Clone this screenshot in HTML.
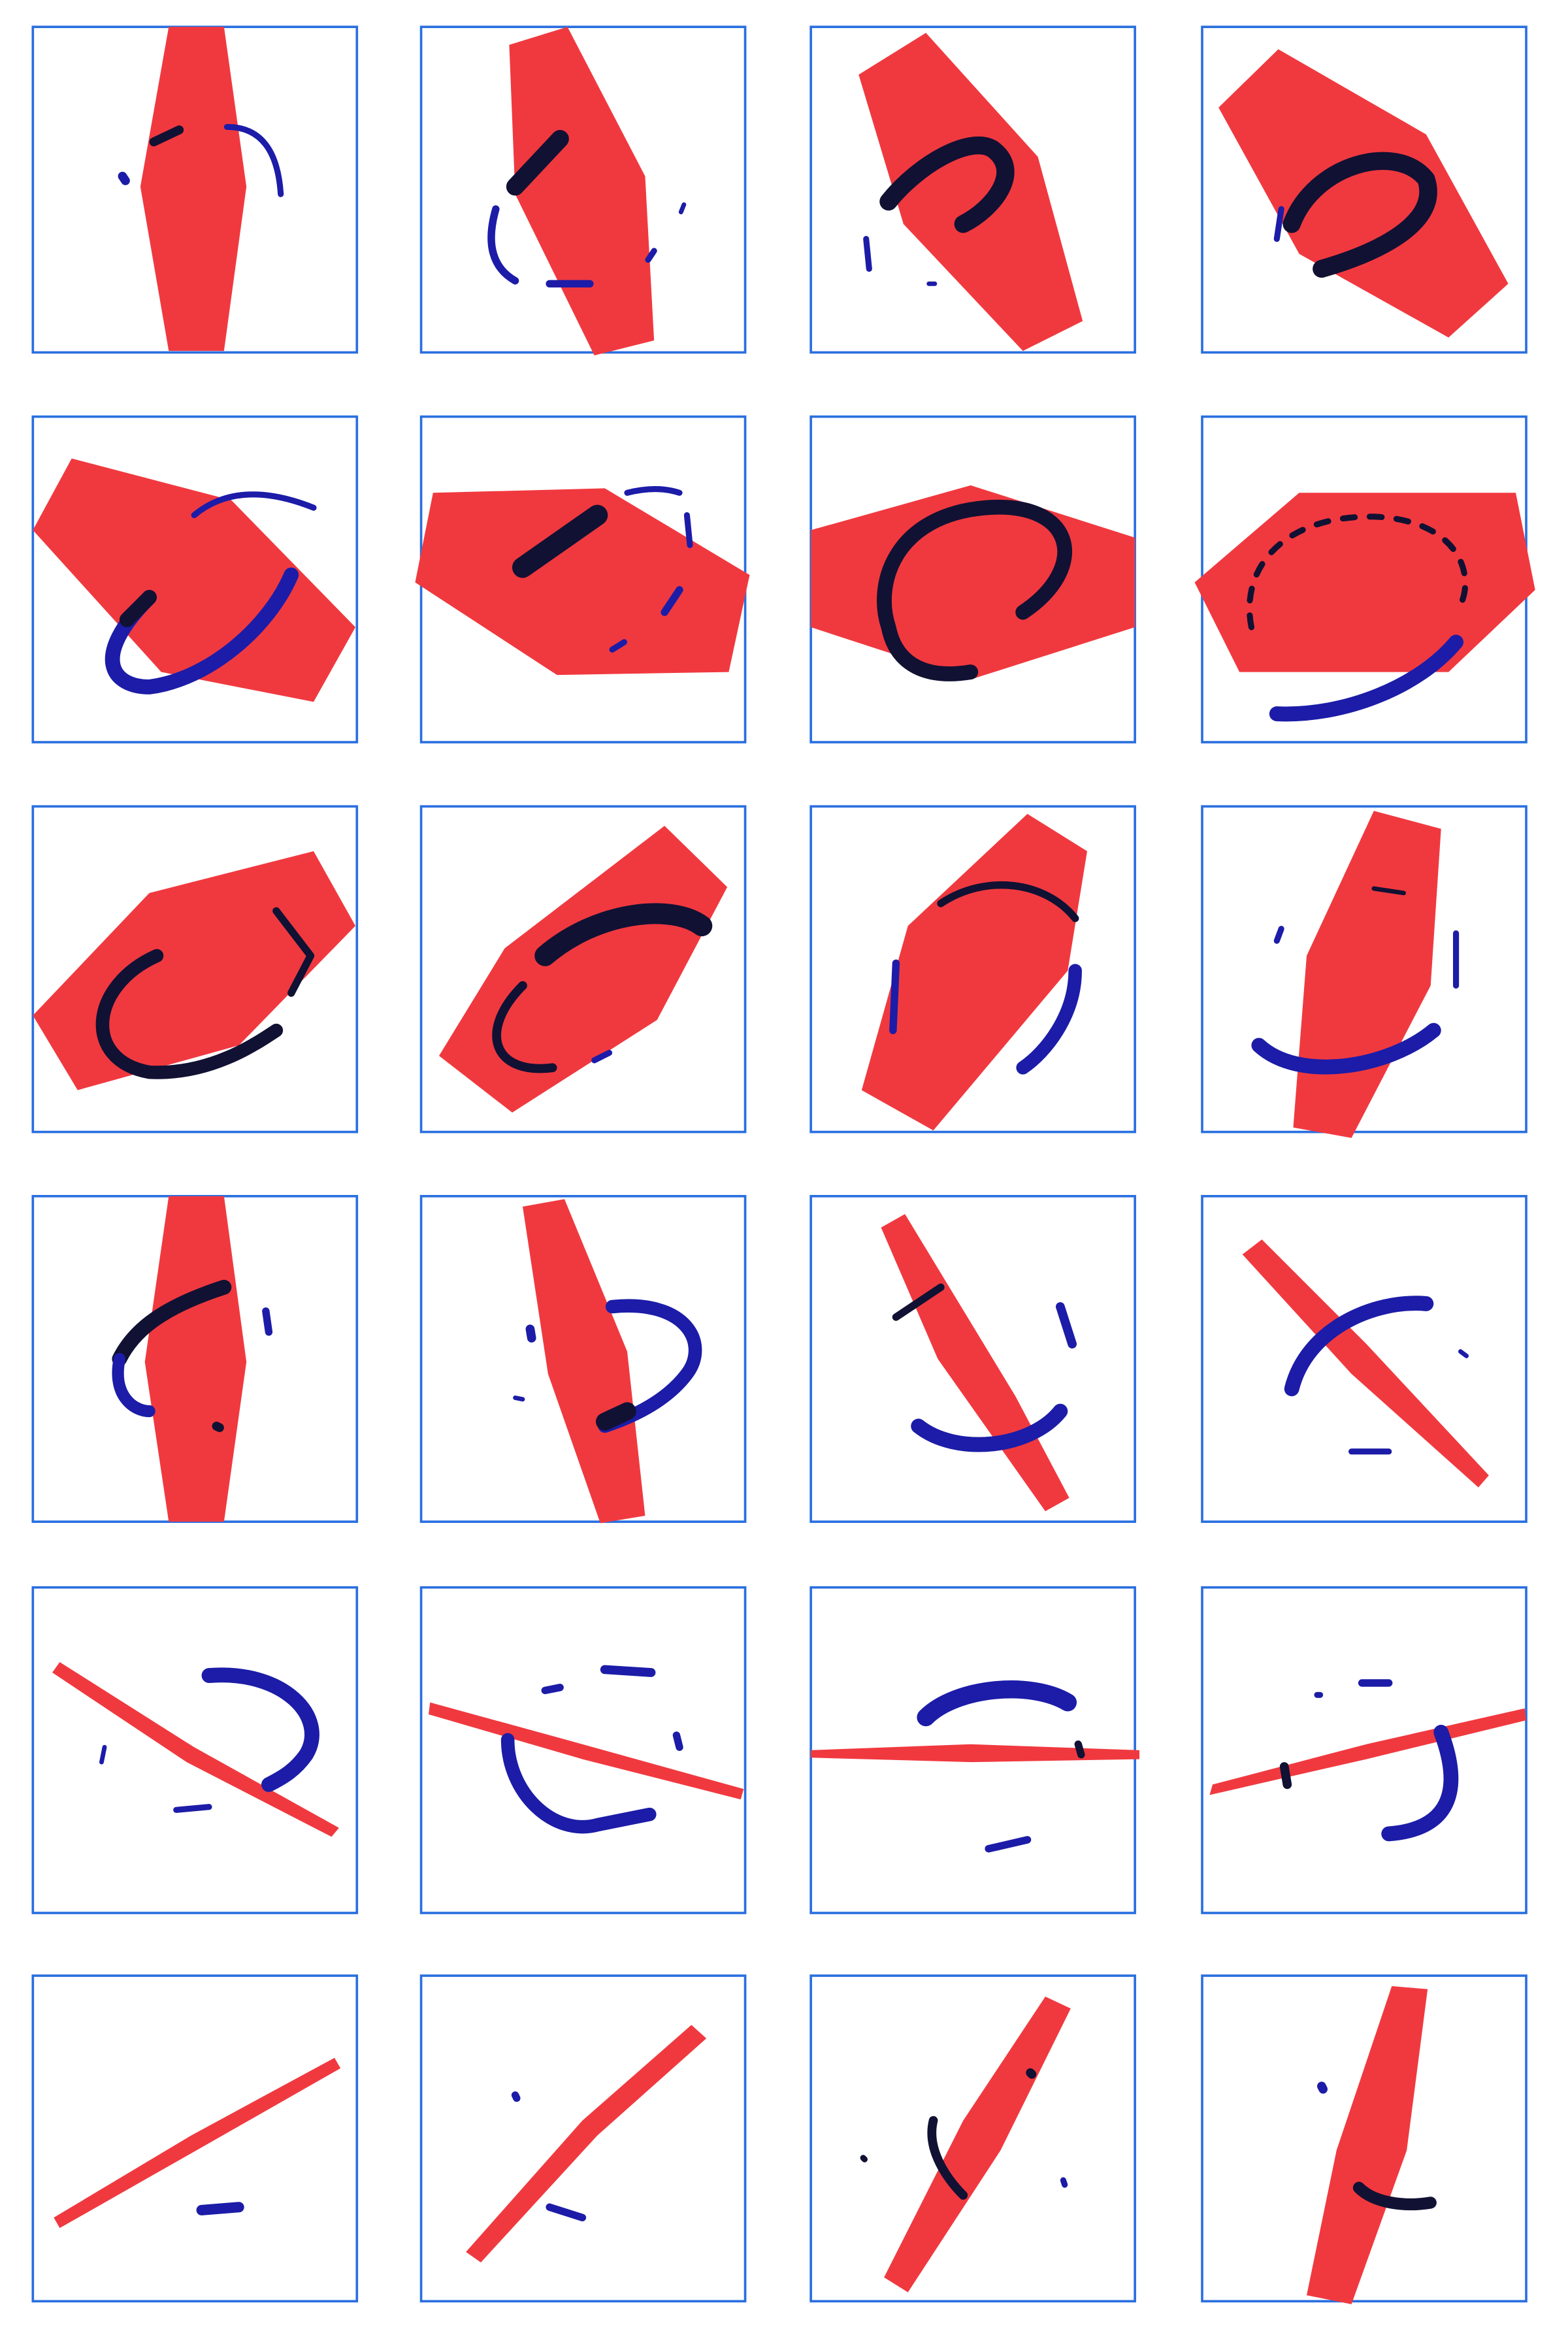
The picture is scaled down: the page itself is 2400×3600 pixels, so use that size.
<!DOCTYPE html>
<html><head><meta charset="utf-8"><title>Rotating shapes grid</title>
<style>html,body{margin:0;padding:0;background:#fff}svg{display:block}</style></head>
<body>
<svg width="2400" height="3600" viewBox="0 0 1050 1575" preserveAspectRatio="none" xmlns="http://www.w3.org/2000/svg">
<rect width="1050" height="1575" fill="#fff"/>
<g id="frames" fill="none" stroke="#2a6fe0" stroke-width="1.6"></g>
<g id="shapes" fill="#f0393f"></g>
<g id="strokes" fill="none" stroke-linecap="round" stroke-linejoin="round"></g>
</svg>
<script>
const NS="http://www.w3.org/2000/svg";
const colsX=[22,282,543,805], rowsY=[18,279,540,801,1063,1323], boxW=217, boxH=218;
const polys=[
"113,18 150,18 165,125 150,235 113,235 94,125",
"341,30 380,18 432,118 438,228 398,238 345,130",
"575,50 620,22 695,105 725,215 685,235 605,150",
"816,72 856,33 955,90 1010,190 970,226 870,170",
"22,355 48,307 155,335 238,420 210,470 108,450",
"278,390 290,330 405,327 502,385 488,450 373,452",
"543,355 650,325 760,360 760,420 650,455 543,420",
"800,390 870,330 1015,330 1028,395 970,450 830,450",
"22,680 100,598 210,570 238,620 160,700 52,730",
"294,707 338,635 445,553 487,594 440,683 343,745",
"577,730 608,620 688,545 728,570 715,650 625,757",
"866,755 875,640 920,543 965,555 958,660 905,762",
"113,801 150,801 165,912 150,1019 113,1019 97,912",
"350,808 378,803 420,905 432,1015 402,1020 367,920",
"590,822 606,813 680,935 716,1003 700,1012 628,910",
"832,840 845,830 915,900 997,988 990,996 905,920",
"35,1120 40,1113 130,1170 227,1224 222,1230 125,1180",
"287,1148 288,1140 390,1168 498,1198 496,1205 390,1178",
"543,1172 650,1168 763,1172 763,1178 650,1180 543,1177",
"810,1202 812,1195 915,1168 1021,1144 1022,1152 915,1178",
"36,1485 40,1492 135,1438 228,1385 224,1378 128,1430",
"312,1508 322,1515 400,1430 473,1365 463,1356 390,1420",
"592,1525 608,1535 670,1440 717,1345 700,1337 645,1420",
"875,1537 905,1543 942,1440 956,1332 932,1330 895,1440"];
const B="#1c1ca8", K="#111133";
const strokes=[
[K,6,"M103,95 L120,87"],[B,4,"M152,85 Q185,85 188,130"],[B,6,"M82,118 L84,121"],
[K,12,"M345,125 L375,93"],[B,5,"M332,140 Q322,175 345,188"],[B,5,"M368,190 L395,190"],[B,4,"M438,168 L434,174"],[B,3,"M458,137 L456,142"],
[K,12,"M595,135 C615,110 650,90 665,100 C685,115 665,140 645,150"],[B,4,"M580,160 L582,180"],[B,3,"M622,190 L626,190"],
[K,12,"M865,150 C880,110 935,95 955,120 C965,150 920,170 885,180"],[B,4,"M858,140 L855,160"],
[B,4,"M130,345 Q160,320 210,340"],[B,10,"M100,400 C60,440 75,460 100,460 C140,455 180,420 195,385"],[K,10,"M100,400 L85,415"],
[K,14,"M350,380 L400,345"],[B,4,"M420,330 Q440,325 455,330"],[B,4,"M460,345 L462,365"],[B,5,"M445,410 L455,395"],[B,4,"M410,435 L418,430"],
[K,10,"M685,410 C730,380 720,335 660,340 C600,345 585,390 595,420 C600,445 620,455 650,450"],
[K,4,"M838,420 C830,380 860,345 920,346 C980,348 990,390 975,410","8 10"],[B,10,"M855,478 C900,480 950,460 975,430"],
[K,9,"M105,640 C60,660 55,710 100,718 C140,720 170,700 185,690"],[K,5,"M185,610 L208,640 L195,665"],
[K,14,"M365,640 C400,610 450,605 470,620"],[K,6,"M350,660 C320,690 330,720 370,715"],[B,4,"M398,710 L408,705"],
[K,5,"M630,605 C660,585 700,590 720,615"],[B,5,"M600,645 L598,690"],[B,9,"M720,650 C720,680 700,705 685,715"],
[B,10,"M843,700 C870,725 930,715 960,690"],[K,3,"M920,595 L940,598"],[B,4,"M975,625 L975,660"],[B,4,"M858,622 L855,630"],
[K,10,"M150,862 C110,875 90,890 80,910"],[B,8,"M80,910 C75,935 90,945 100,945"],[B,5,"M178,878 L180,892"],[K,6,"M145,955 L147,956"],
[B,9,"M410,875 C460,870 475,900 460,920 C445,940 420,950 405,955"],[K,12,"M405,952 L420,945"],[B,6,"M355,890 L356,896"],[B,3,"M345,936 L350,937"],
[K,5,"M600,882 L630,862"],[B,6,"M710,875 L718,900"],[B,10,"M615,955 C640,975 690,970 710,945"],
[B,10,"M865,930 C875,890 920,870 955,873"],[B,4,"M905,972 L930,972"],[B,3,"M978,905 L982,908"],
[B,10,"M140,1122 C190,1118 220,1150 205,1175 C198,1185 190,1190 180,1195"],[B,4,"M118,1212 L140,1210"],[B,3,"M70,1170 L68,1180"],
[B,9,"M340,1165 C340,1200 370,1230 400,1222 L435,1215"],[B,5,"M375,1130 L365,1132"],[B,6,"M405,1118 L436,1120"],[B,5,"M453,1162 L455,1170"],
[B,12,"M620,1150 C640,1130 690,1125 715,1140"],[K,5,"M722,1168 L724,1175"],[B,5,"M662,1238 L688,1232"],
[B,10,"M965,1160 C980,1200 970,1225 930,1228"],[K,6,"M860,1183 L862,1195"],[B,5,"M912,1127 L930,1127"],[B,4,"M882,1135 L884,1135"],
[B,7,"M135,1480 L160,1478"],
[B,5,"M368,1478 L390,1485"],[B,5,"M345,1403 L346,1405"],
[K,6,"M625,1420 C620,1440 635,1460 645,1470"],[K,6,"M690,1388 L691,1389"],[K,4,"M578,1445 L579,1446"],[B,4,"M712,1460 L713,1463"],
[K,8,"M910,1465 C920,1475 940,1478 958,1475"],[B,6,"M885,1397 L886,1399"]];
const fg=document.getElementById('frames'), sg=document.getElementById('shapes'), kg=document.getElementById('strokes');
rowsY.forEach((y,r)=>colsX.forEach((x,c)=>{
  const rc=document.createElementNS(NS,'rect');
  rc.setAttribute('x',x);rc.setAttribute('y',y);rc.setAttribute('width',boxW);rc.setAttribute('height',boxH);
  
  
  fg.appendChild(rc);
}));
polys.forEach(p=>{
  const pg=document.createElementNS(NS,'polygon');
  pg.setAttribute('points',p);
  
  
  sg.appendChild(pg);
});
strokes.forEach(s=>{
  const pt=document.createElementNS(NS,'path');
  pt.setAttribute('d',s[2]);pt.setAttribute('stroke',s[0]);pt.setAttribute('stroke-width',s[1]);
  if(s[3])pt.setAttribute('stroke-dasharray',s[3]);
  
  
  kg.appendChild(pt);
});
</script>
</body></html>
